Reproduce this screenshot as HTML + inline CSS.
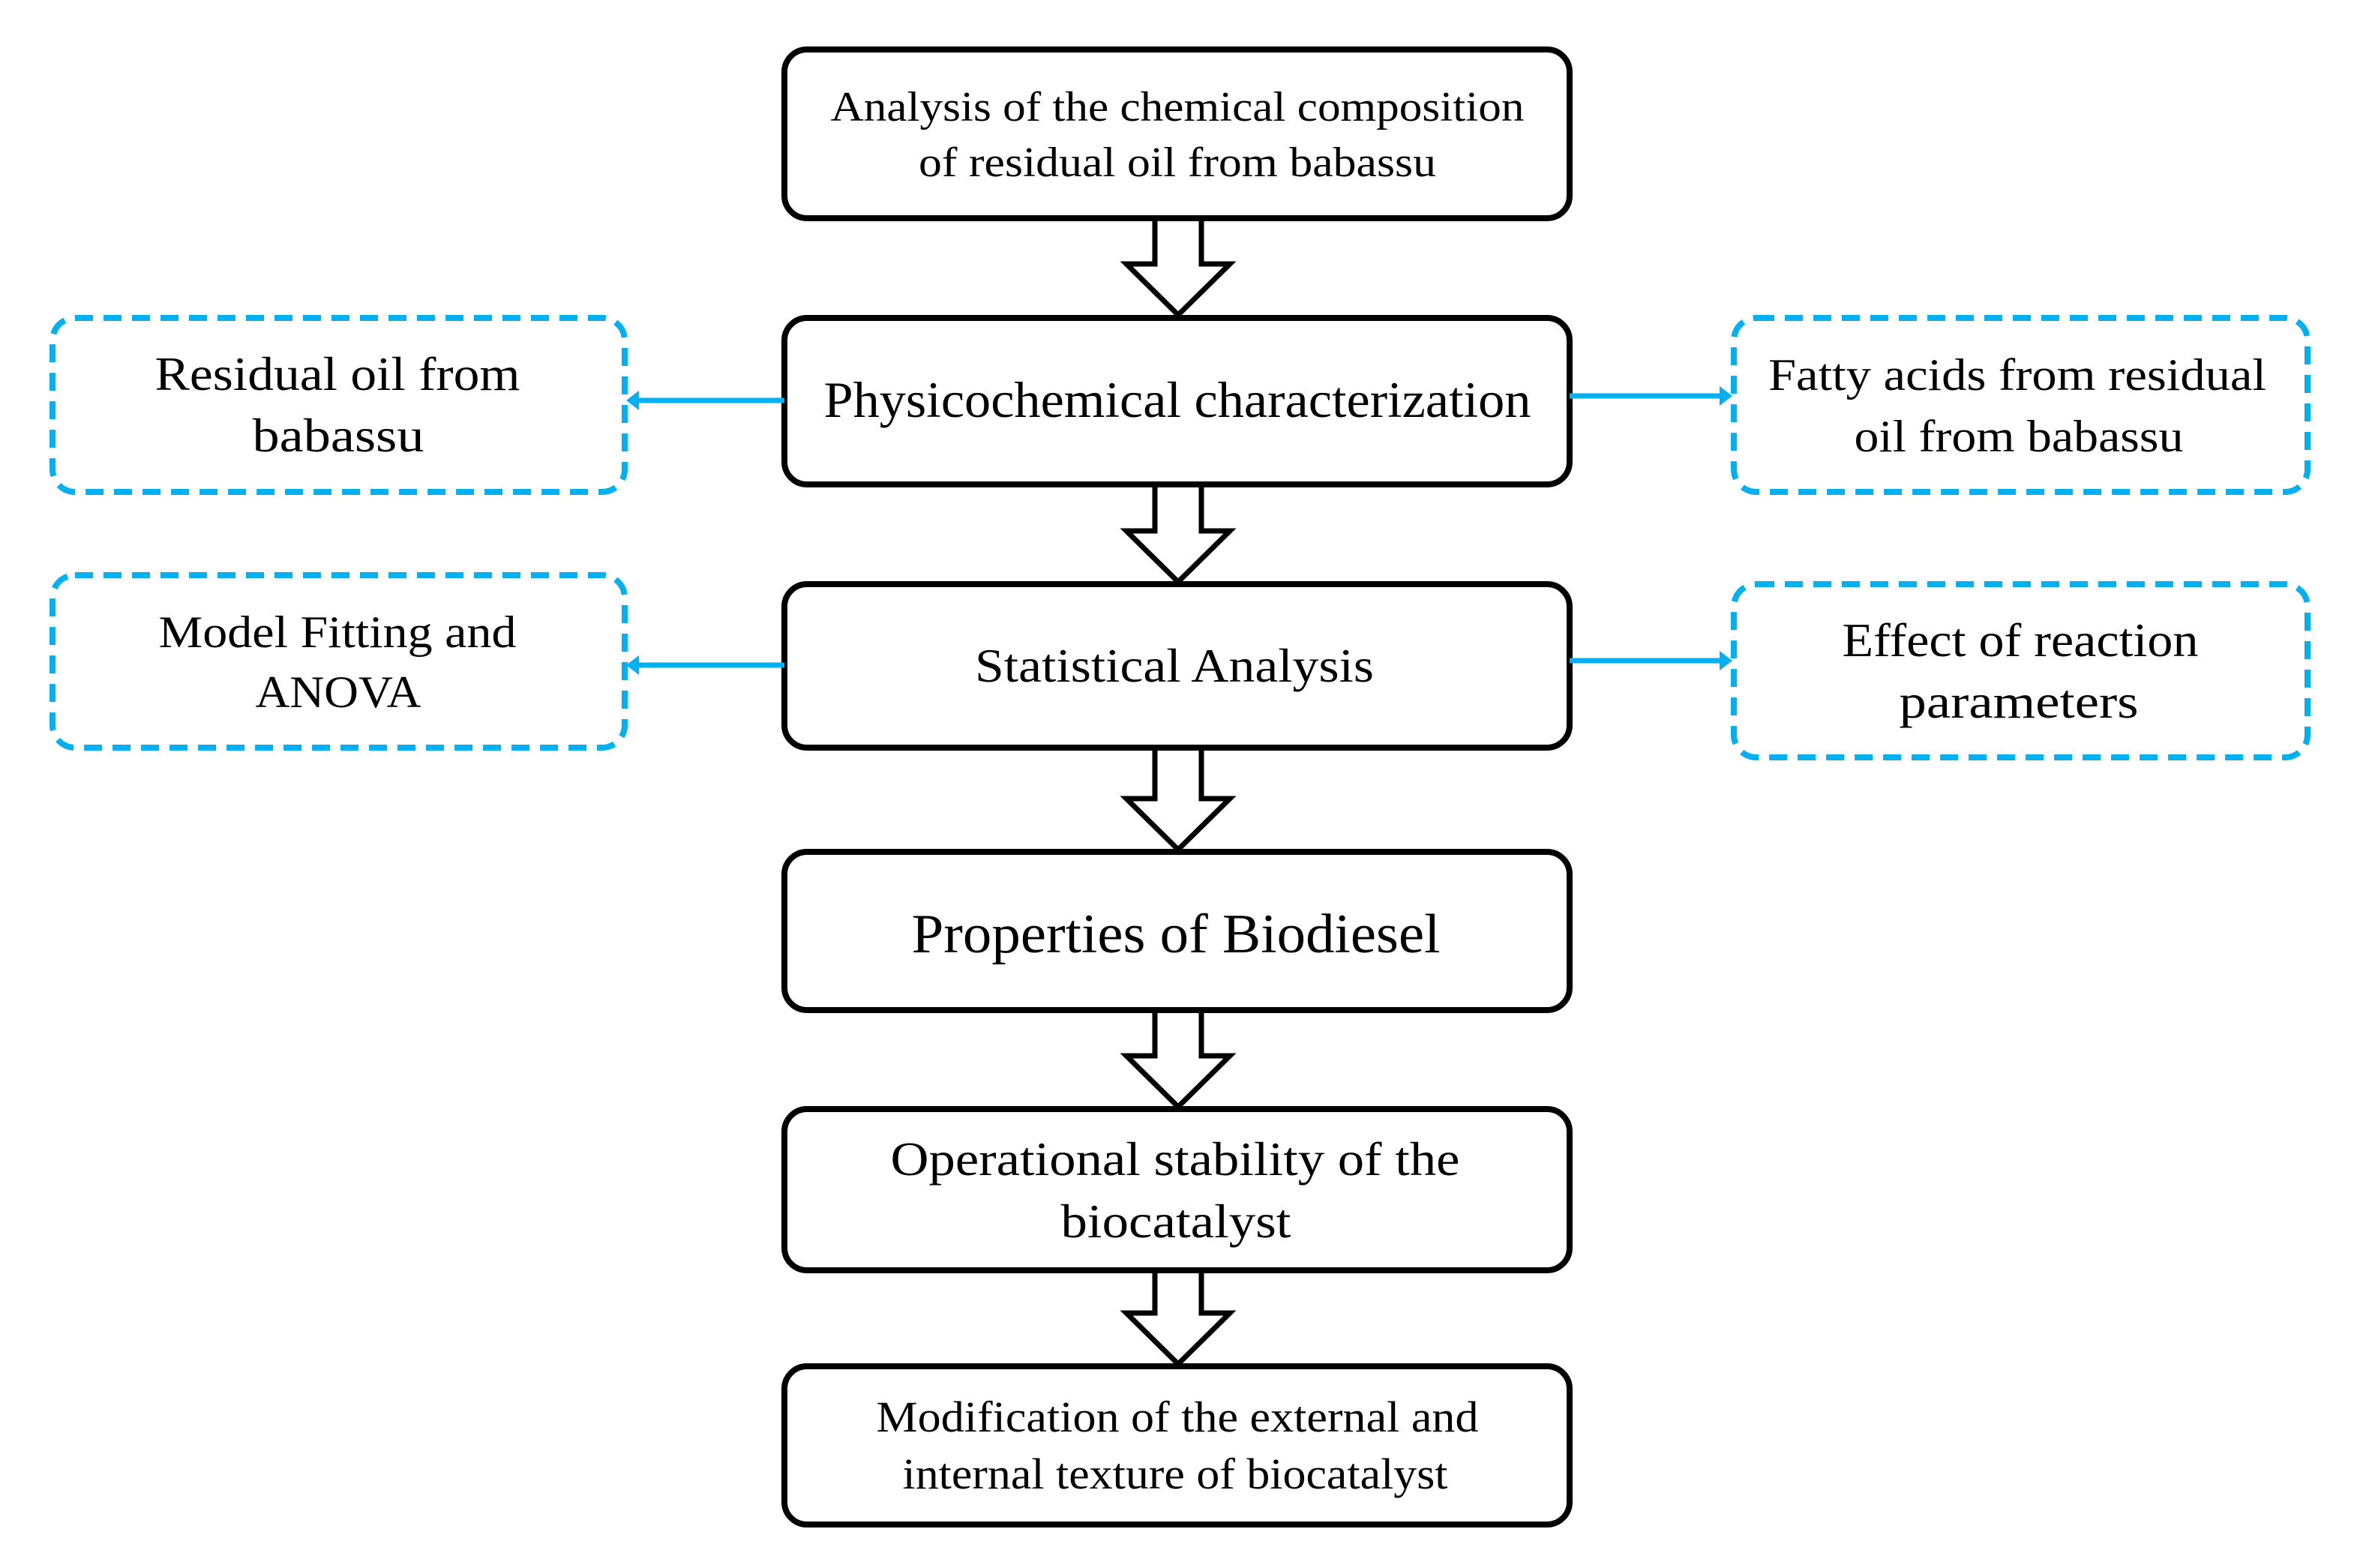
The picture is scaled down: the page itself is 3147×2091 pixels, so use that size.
<!DOCTYPE html>
<html><head><meta charset="utf-8"><style>
html,body{margin:0;padding:0;background:#fff;}
svg{display:block;}
text{font-family:"Liberation Serif",serif;fill:#000;text-anchor:middle;}
</style></head><body>
<svg width="3147" height="2091" viewBox="0 0 3147 2091" xmlns="http://www.w3.org/2000/svg">
<g fill="#fff" stroke="#000" stroke-width="8">
<rect x="1046" y="66" width="1047" height="225" rx="30"/>
<rect x="1046" y="424" width="1047" height="222" rx="30"/>
<rect x="1046" y="779" width="1047" height="218" rx="30"/>
<rect x="1046" y="1136" width="1047" height="211" rx="30"/>
<rect x="1046" y="1479" width="1047" height="215" rx="30"/>
<rect x="1046" y="1822" width="1047" height="211" rx="30"/>
</g>
<g fill="#fff" stroke="#000" stroke-width="7" stroke-linejoin="miter">
<path d="M1540 295 V352 H1502 L1571 420 L1640 352 H1602 V295"/>
<path d="M1540 650 V708 H1502 L1571 776 L1640 708 H1602 V650"/>
<path d="M1540 1001 V1065 H1502 L1571 1133 L1640 1065 H1602 V1001"/>
<path d="M1540 1351 V1408 H1502 L1571 1476 L1640 1408 H1602 V1351"/>
<path d="M1540 1698 V1751 H1502 L1571 1819 L1640 1751 H1602 V1698"/>
</g>
<g fill="none" stroke="#00b0f0" stroke-width="8" stroke-dasharray="24 14">
<rect x="70" y="424" width="763" height="232" rx="30"/>
<rect x="70" y="767" width="763" height="230" rx="30"/>
<rect x="2312" y="424" width="765" height="232" rx="30"/>
<rect x="2312" y="779" width="765" height="231" rx="30"/>
</g>
<g stroke="#00b0f0" stroke-width="7" fill="#00b0f0">
<line x1="1046" y1="534" x2="845" y2="534"/>
<line x1="1046" y1="887" x2="845" y2="887"/>
<line x1="2093" y1="528" x2="2300" y2="528"/>
<line x1="2093" y1="881" x2="2300" y2="881"/>
</g>
<g fill="#00b0f0">
<polygon points="835,534 852,521 852,547"/>
<polygon points="835,887 852,874 852,900"/>
<polygon points="2310,528 2293,515 2293,541"/>
<polygon points="2310,881 2293,868 2293,894"/>
</g>
<g>
<text x="1570" y="161" font-size="56" textLength="925" lengthAdjust="spacingAndGlyphs">Analysis of the chemical composition</text>
<text x="1570" y="235" font-size="56" textLength="690" lengthAdjust="spacingAndGlyphs">of residual oil from babassu</text>
<text x="1570" y="556" font-size="68" textLength="943" lengthAdjust="spacingAndGlyphs">Physicochemical characterization</text>
<text x="1566" y="909" font-size="64" textLength="532" lengthAdjust="spacingAndGlyphs">Statistical Analysis</text>
<text x="1568" y="1270" font-size="74" textLength="705" lengthAdjust="spacingAndGlyphs">Properties of Biodiesel</text>
<text x="1567" y="1567" font-size="64" textLength="759" lengthAdjust="spacingAndGlyphs">Operational stability of the</text>
<text x="1568" y="1650" font-size="64" textLength="307" lengthAdjust="spacingAndGlyphs">biocatalyst</text>
<text x="1570" y="1909" font-size="58" textLength="803" lengthAdjust="spacingAndGlyphs">Modification of the external and</text>
<text x="1567" y="1985" font-size="58" textLength="727" lengthAdjust="spacingAndGlyphs">internal texture of biocatalyst</text>
<text x="450" y="520" font-size="64" textLength="487" lengthAdjust="spacingAndGlyphs">Residual oil from</text>
<text x="451" y="602" font-size="64" textLength="229" lengthAdjust="spacingAndGlyphs">babassu</text>
<text x="450" y="863" font-size="60" textLength="477" lengthAdjust="spacingAndGlyphs">Model Fitting and</text>
<text x="451" y="943" font-size="60" textLength="221" lengthAdjust="spacingAndGlyphs">ANOVA</text>
<text x="2690" y="520" font-size="60" textLength="664" lengthAdjust="spacingAndGlyphs">Fatty acids from residual</text>
<text x="2692" y="602" font-size="60" textLength="439" lengthAdjust="spacingAndGlyphs">oil from babassu</text>
<text x="2694" y="875" font-size="64" textLength="475" lengthAdjust="spacingAndGlyphs">Effect of reaction</text>
<text x="2692" y="957" font-size="64" textLength="319" lengthAdjust="spacingAndGlyphs">parameters</text>
</g>
</svg>
</body></html>
